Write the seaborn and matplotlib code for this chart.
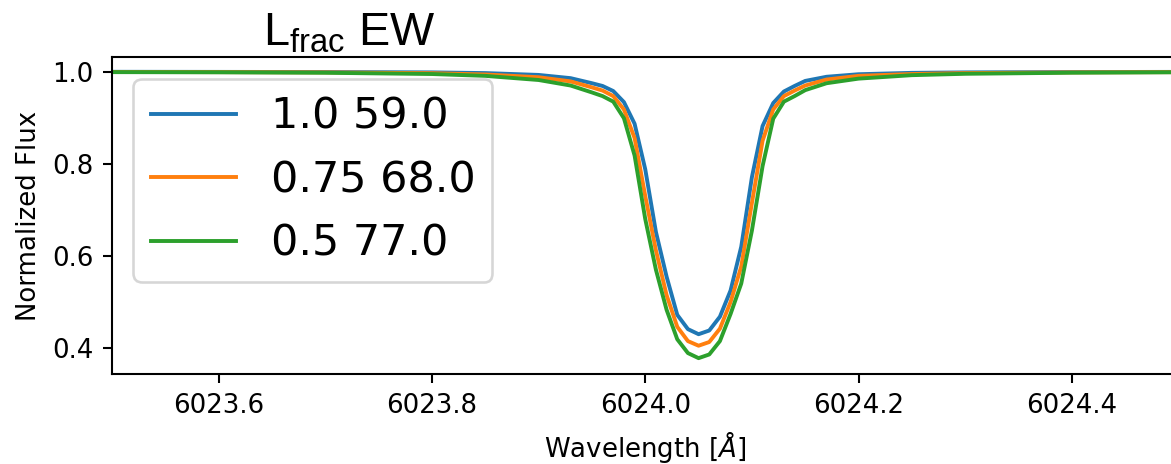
import matplotlib
matplotlib.use("Agg")
import matplotlib.pyplot as plt
import pandas as pd
import seaborn as sns

# Wavelength grid (Angstrom) shared by the three synthetic profiles
wavelength = [6023.50, 6023.60, 6023.70, 6023.80, 6023.85, 6023.90, 6023.93,
              6023.95, 6023.96, 6023.97, 6023.98, 6023.99, 6024.00, 6024.01,
              6024.02, 6024.03, 6024.04, 6024.05, 6024.06, 6024.07, 6024.08,
              6024.09, 6024.10, 6024.11, 6024.12, 6024.13, 6024.14, 6024.15,
              6024.17, 6024.20, 6024.25, 6024.30, 6024.40, 6024.50]

# Normalized flux for each light fraction
flux_l100 = [0.9998, 0.9996, 0.9993, 0.9985, 0.9970, 0.9930, 0.9860,
             0.9750, 0.9690, 0.9580, 0.9340, 0.8870, 0.7880, 0.6520,
             0.5550, 0.4720, 0.4410, 0.4300, 0.4380, 0.4680, 0.5250,
             0.6200, 0.7710, 0.8820, 0.9320, 0.9570, 0.9690, 0.9800,
             0.9890, 0.9945, 0.9975, 0.9985, 0.9993, 0.9996]
flux_l075 = [0.9994, 0.9991, 0.9985, 0.9968, 0.9940, 0.9880, 0.9790,
             0.9660, 0.9590, 0.9470, 0.9180, 0.8560, 0.7300, 0.6120,
             0.5150, 0.4460, 0.4150, 0.4050, 0.4130, 0.4420, 0.5000,
             0.5770, 0.7150, 0.8500, 0.9180, 0.9470, 0.9590, 0.9700,
             0.9830, 0.9910, 0.9950, 0.9970, 0.9985, 0.9991]
flux_l050 = [0.9991, 0.9987, 0.9977, 0.9950, 0.9910, 0.9820, 0.9700,
             0.9550, 0.9470, 0.9350, 0.8990, 0.8180, 0.6800, 0.5700,
             0.4830, 0.4190, 0.3890, 0.3780, 0.3860, 0.4150, 0.4740,
             0.5400, 0.6550, 0.7950, 0.8980, 0.9350, 0.9470, 0.9600,
             0.9750, 0.9850, 0.9925, 0.9955, 0.9978, 0.9988]

series_labels = ["1.0 59.0", "0.75 68.0", "0.5 77.0"]
series_flux = [flux_l100, flux_l075, flux_l050]
line_colors = ["#1f77b4", "#ff7f0e", "#2ca02c"]

x_ticks = [6023.6, 6023.8, 6024.0, 6024.2, 6024.4]
y_ticks = [0.4, 0.6, 0.8, 1.0]

frames = []
for lab, fl in zip(series_labels, series_flux):
    frames.append(pd.DataFrame({"wavelength": wavelength, "flux": fl, "model": lab}))
df = pd.concat(frames, ignore_index=True)

DPI = 187
fig = plt.figure(figsize=(6.2621, 2.4813), dpi=DPI)
W, H = 1171.0, 464.0
ax = fig.add_axes([112 / W, (H - 374.4) / H, 1066.5 / W, 317.1 / H])

sns.lineplot(data=df, x="wavelength", y="flux", hue="model",
             hue_order=series_labels, palette=line_colors,
             estimator=None, sort=False, linewidth=1.5, ax=ax)

ax.set_xlim(6023.5, 6024.5)
ax.set_ylim(0.3427, 1.0313)
ax.set_xticks(x_ticks)
ax.set_yticks(y_ticks)
ax.ticklabel_format(axis="x", useOffset=False)
ax.set_xlabel(r"Wavelength [$\AA$]")
ax.set_ylabel("Normalized Flux")

ax.legend(loc="upper left", fontsize=16.5)

fig.text(263 / W, (H - 45) / H, r"L$_\mathrm{frac}$ EW", fontsize=18,
         family="Liberation Sans", va="baseline", ha="left",
         math_fontfamily="custom")
plt.rcParams["mathtext.rm"] = "Liberation Sans"

fig.savefig("out.png", dpi=DPI)
